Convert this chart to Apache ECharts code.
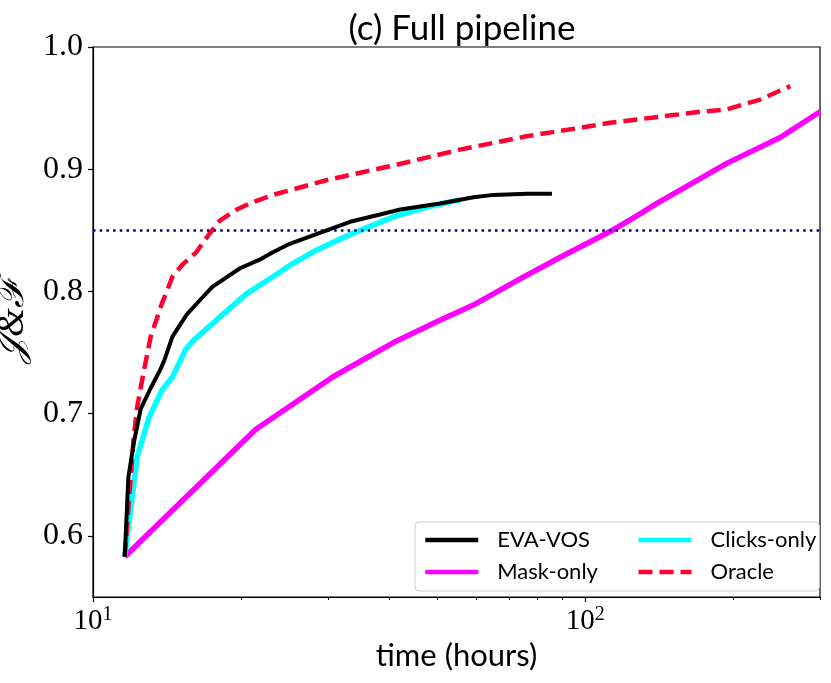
<!DOCTYPE html>
<html>
<head>
<meta charset="utf-8">
<script src="https://cdn.jsdelivr.net/npm/echarts@6/dist/echarts.min.js"></script>
<style>
    html, body { margin: 0; padding: 0; background: #fff; }
    #chart { width: 831px; height: 683px; }
</style>
</head>
<body>
<div id="chart"></div>
<script>
// values (time in hours, J&F score)
const evaTime = [11.6, 11.8, 12.1, 12.5, 13.1, 13.7, 14.0, 14.5, 15.5, 16.5, 17.5, 19.9, 21.8, 23.2, 25.1, 28.9, 33.3, 38.3, 42.1, 50.7, 59.3, 65.1, 76.1, 85.6];
const evaScore = [0.583, 0.648, 0.676, 0.704, 0.721, 0.736, 0.745, 0.763, 0.781, 0.793, 0.804, 0.819, 0.826, 0.832, 0.839, 0.848, 0.857, 0.863, 0.867, 0.872, 0.877, 0.879, 0.880, 0.880];

const clicksTime = [11.6, 12.3, 13.0, 13.8, 14.5, 15.4, 16.0, 18.1, 20.5, 23.2, 25.5, 28.5, 31.8, 34.9, 40.8, 47.7, 55.7];
const clicksScore = [0.583, 0.665, 0.697, 0.719, 0.730, 0.752, 0.760, 0.779, 0.798, 0.812, 0.823, 0.834, 0.843, 0.850, 0.861, 0.869, 0.875];

const maskTime = [11.6, 21.4, 30.7, 40.7, 49.8, 60.0, 72.8, 89.0, 112.4, 127.6, 139.9, 194.4, 249, 300];
const maskScore = [0.583, 0.687, 0.730, 0.758, 0.775, 0.790, 0.809, 0.828, 0.849, 0.862, 0.872, 0.905, 0.926, 0.947];

const oracleTime = [11.6, 12.1, 12.3, 12.7, 13.1, 13.8, 14.5, 15.2, 16.2, 17.3, 18.1, 19.6, 21.1, 23.2, 29.8, 40.7, 55.6, 76.0, 94.5, 112.4, 142.1, 171.3, 194.1, 226.9, 261.1];
const oracleScore = [0.583, 0.681, 0.706, 0.736, 0.763, 0.790, 0.812, 0.822, 0.832, 0.848, 0.858, 0.867, 0.873, 0.879, 0.891, 0.903, 0.916, 0.927, 0.933, 0.938, 0.943, 0.947, 0.949, 0.957, 0.968];

const threshold = 0.85;
const yTicks = [0.6, 0.7, 0.8, 0.9, 1.0];
const xMajorTicks = [10, 100];
const xMinorTicks = [20, 30, 40, 50, 60, 70, 80, 90, 200, 300];

function zip(xs, ys) {
    return xs.map((x, i) => [x, ys[i]]);
}

const serifFont = '"Liberation Serif", "DejaVu Serif", serif';
const sansFont = 'Lato, "Open Sans", sans-serif';

const myChart = echarts.init(document.getElementById('chart'), null, { renderer: 'canvas' });
const option = {
    animation: false,
    title: {
        text: '(c) Full pipeline',
        left: 457,
        textAlign: 'center',
        top: 6,
        textStyle: {
            fontFamily: sansFont,
            fontWeight: 'normal',
            fontSize: 35,
            color: '#000',
        },
    },
    grid: {
        left: 93,
        right: 11,
        top: 47,
        bottom: 86,
        show: true,
        borderColor: '#000',
        borderWidth: 1.2,
        containLabel: false,
        outerBoundsMode: 'none',
    },
    legend: {
        data: ['EVA-VOS', 'Clicks-only', 'Mask-only', 'Oracle'],
        left: 415,
        top: 522,
        width: 412,
        orient: 'horizontal',
        itemWidth: 53,
        itemHeight: 14,
        itemGap: 10,
        padding: [7, 3, 8, 8],
        backgroundColor: 'rgba(255,255,255,0.8)',
        borderColor: '#cccccc',
        borderWidth: 1,
        borderRadius: 4,
        itemStyle: { opacity: 0 },
        lineStyle: { width: 4.5 },
        formatter: function (name) {
            return (name === 'EVA-VOS' || name === 'Mask-only') ? '{a|' + name + '}' : '{b|' + name + '}';
        },
        textStyle: {
            rich: {
                a: { width: 129, fontSize: 22, lineHeight: 26, fontFamily: sansFont, color: '#000', padding: [0, 0, 0, 14] },
                b: { fontSize: 22, lineHeight: 26, fontFamily: sansFont, color: '#000', padding: [0, 0, 0, 14] },
            },
        },
    },
    xAxis: [
        {
            type: 'log',
            logBase: 10,
            min: 10,
            max: 300,
            name: 'time (hours)',
            nameLocation: 'middle',
            nameGap: 43,
            nameTextStyle: {
                fontFamily: sansFont,
                fontSize: 31,
                color: '#000',
            },
            axisLine: { show: true, lineStyle: { color: '#000', width: 1.2 } },
            axisTick: { show: true, customValues: xMajorTicks, length: 5, lineStyle: { color: '#000', width: 1.2 } },
            axisLabel: {
                customValues: xMajorTicks,
                margin: 8,
                formatter: function (v) {
                    return '{b|10}{s|' + Math.round(Math.log10(v)) + '}';
                },
                rich: {
                    b: { fontFamily: serifFont, fontSize: 29, color: '#000', lineHeight: 32 },
                    s: { fontFamily: serifFont, fontSize: 20, color: '#000', verticalAlign: 'top', lineHeight: 32 },
                },
            },
            splitLine: { show: false },
        },
        {
            type: 'log',
            logBase: 10,
            min: 10,
            max: 300,
            position: 'bottom',
            axisLine: { show: false },
            axisTick: { show: true, customValues: xMinorTicks, length: 3, lineStyle: { color: '#000', width: 1 } },
            axisLabel: { show: false },
            splitLine: { show: false },
        },
    ],
    yAxis: {
        type: 'value',
        min: 0.55,
        max: 1.0,
        name: '𝒥&ℱ',
        nameLocation: 'middle',
        nameGap: 52,
        nameTextStyle: {
            fontFamily: serifFont,
            fontStyle: 'italic',
            fontSize: 37,
            color: '#000',
        },
        axisLine: { show: true, lineStyle: { color: '#000', width: 1.2 } },
        axisTick: { show: true, customValues: yTicks, length: 5, lineStyle: { color: '#000', width: 1.2 } },
        axisLabel: {
            customValues: yTicks,
            margin: 10,
            fontFamily: serifFont,
            fontSize: 32,
            color: '#000',
            formatter: function (v) {
                return v.toFixed(1);
            },
        },
        splitLine: { show: false },
    },
    series: [
        {
            name: 'Mask-only',
            type: 'line',
            symbol: 'none',
            z: 2,
            lineStyle: { color: '#ff00ff', width: 5.5 },
            itemStyle: { color: '#ff00ff' },
            data: zip(maskTime, maskScore),
        },
        {
            name: 'Clicks-only',
            type: 'line',
            symbol: 'none',
            z: 3,
            lineStyle: { color: '#00ffff', width: 5.5 },
            itemStyle: { color: '#00ffff' },
            data: zip(clicksTime, clicksScore),
        },
        {
            name: 'Oracle',
            type: 'line',
            symbol: 'none',
            z: 4,
            lineStyle: { color: '#ff0030', width: 4.5, type: [14, 7] },
            itemStyle: { color: '#ff0030' },
            data: zip(oracleTime, oracleScore),
        },
        {
            name: 'EVA-VOS',
            type: 'line',
            symbol: 'none',
            z: 5,
            lineStyle: { color: '#000000', width: 4 },
            itemStyle: { color: '#000000' },
            data: zip(evaTime, evaScore),
            markLine: {
                silent: true,
                symbol: 'none',
                label: { show: false },
                lineStyle: { color: '#000080', width: 2.5, type: [2.5, 4.2] },
                data: [{ yAxis: threshold }],
            },
        },
    ],
};
myChart.setOption(option);
window.addEventListener('resize', myChart.resize);
</script>
</body>
</html>
